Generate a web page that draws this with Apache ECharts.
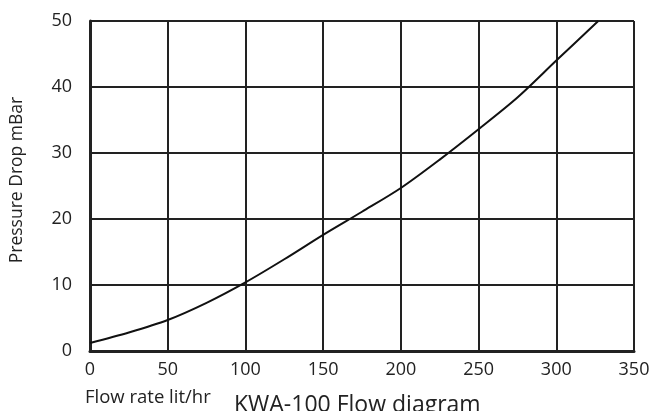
<!DOCTYPE html>
<html>
<head>
<meta charset="utf-8">
<script src="https://cdn.jsdelivr.net/npm/echarts@6/dist/echarts.min.js"></script>
<style>
  html, body { margin: 0; padding: 0; background: #fff; }
  #main { width: 654px; height: 411px; }
</style>
</head>
<body>
<div id="main"></div>
<script>
// flow rate (lit/hr) vs pressure drop (mBar)
const flow = [0, 25, 50, 75, 100, 125, 150, 175, 200, 225, 250, 275, 300, 327];
const drop = [1.2, 2.8, 4.7, 7.3, 10.4, 13.9, 17.6, 21.1, 24.7, 29, 33.6, 38.4, 44.0, 50];
const xTicks = [0, 50, 100, 150, 200, 250, 300, 350];
const yTicks = [0, 10, 20, 30, 40, 50];

const chart = echarts.init(document.getElementById("main"));
const font = "'Open Sans', sans-serif";
const ink = "#222";

chart.setOption({
  animation: false,
  textStyle: { fontFamily: font },
  title: [
    {
      text: "Flow rate lit/hr",
      left: 80, top: 383,
      textStyle: { fontSize: 18.5, fontWeight: "normal", color: ink, fontFamily: font }
    },
    {
      text: "KWA-100 Flow diagram",
      left: 229, top: 389,
      textStyle: { fontSize: 23, fontWeight: "normal", color: ink, fontFamily: font }
    }
  ],
  grid: { left: 90, right: 20, top: 21, bottom: 60 },
  xAxis: {
    type: "value",
    min: xTicks[0], max: xTicks[xTicks.length - 1], interval: 50,
    axisLine: { lineStyle: { color: ink, width: 3 } },
    axisTick: { show: false },
    axisLabel: { color: ink, fontSize: 18, margin: 10 },
    splitLine: { show: true, lineStyle: { color: ink, width: 2 } }
  },
  yAxis: {
    type: "value",
    min: yTicks[0], max: yTicks[yTicks.length - 1], interval: 10,
    name: "Pressure Drop mBar",
    nameLocation: "middle",
    nameGap: 64,
    nameTextStyle: { color: ink, fontSize: 17.5, padding: [0, 0, 0, 12] },
    axisLine: { show: true, lineStyle: { color: ink, width: 3 } },
    axisTick: { show: false },
    axisLabel: { color: ink, fontSize: 18, margin: 18 },
    splitLine: { show: true, lineStyle: { color: ink, width: 2 } }
  },
  series: [
    {
      type: "line",
      data: flow.map((f, i) => [f, drop[i]]),
      smooth: 0.3,
      showSymbol: false,
      lineStyle: { color: "#111", width: 2 }
    }
  ]
});
</script>
</body>
</html>
